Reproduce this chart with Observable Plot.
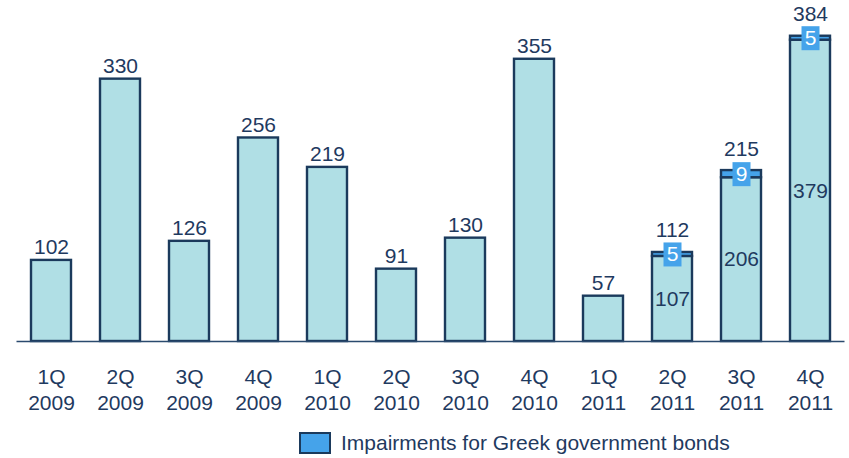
<!DOCTYPE html>
<html>
<head>
<meta charset="utf-8">
<script src="https://cdn.jsdelivr.net/npm/d3@7"></script>
<script src="https://cdn.jsdelivr.net/npm/@observablehq/plot@0.6"></script>
<style>
  html, body { margin: 0; padding: 0; background: #fff; }
  body { width: 849px; height: 458px; overflow: hidden; font-family: "Liberation Sans", Arial, sans-serif; }
  #legend { display: flex; align-items: center; height: 24px; margin-top: 11px; padding-left: 299px; color: #1f3a5f; font-size: 21px; }
  #legend .sw { width: 32px; height: 22px; background: #45a3ea; border: 2px solid #1b3a5c; margin-right: 10px; box-sizing: border-box; }
</style>
</head>
<body>
<div id="chart"></div>
<div id="legend"><span class="sw"></span><span>Impairments for Greek government bonds</span></div>
<script>
const quarters = ["1Q\n2009","2Q\n2009","3Q\n2009","4Q\n2009","1Q\n2010","2Q\n2010","3Q\n2010","4Q\n2010","1Q\n2011","2Q\n2011","3Q\n2011","4Q\n2011"];
const baseValues = [102,330,126,256,219,91,130,355,57,107,206,379];
const greekValues = [0,0,0,0,0,0,0,0,0,5,9,5];
const totals = [102,330,126,256,219,91,130,355,57,112,215,384];

const rows = quarters.map((q, i) => ({q, base: baseValues[i], greek: greekValues[i], total: totals[i]}));
const greekRows = rows.filter(d => d.greek > 0);
const plainRows = rows.filter(d => d.greek === 0);

const navy = "#1b3a5c";
const textColor = "#1f3a5f";
const fs = 21;

// custom rectangle symbol for the Greek value label box
const boxSymbol = { draw(ctx, size) { const w = 9, h = 12; ctx.moveTo(-w, -h); ctx.lineTo(w, -h); ctx.lineTo(w, h); ctx.lineTo(-w, h); ctx.closePath(); } };

const chart = Plot.plot({
  width: 849,
  height: 420,
  marginLeft: 16.5,
  marginRight: 4.5,
  marginTop: 23,
  marginBottom: 79,
  style: {fontFamily: "'Liberation Sans', Arial, sans-serif", fontSize: fs + "px", color: textColor, background: "white"},
  x: {domain: quarters, paddingInner: 0.42, paddingOuter: 0.21, label: null},
  y: {domain: [0, 400], axis: null},
  marks: [
    Plot.barY(rows, {x: "q", y1: 0, y2: "base", fill: "#b0dfe5", stroke: navy, strokeWidth: 2.4}),
    Plot.barY(greekRows, {x: "q", y1: "base", y2: "total", fill: "#45a3ea", stroke: navy, strokeWidth: 2.4}),
    Plot.ruleY([0], {stroke: "#2a4a6e", strokeWidth: 1.5}),
    Plot.axisX({tickSize: 0, tickPadding: 24, fontSize: fs, fill: textColor, lineHeight: 1.24, label: null}),
    Plot.text(plainRows, {x: "q", y: "total", text: d => String(d.total), lineAnchor: "bottom", dy: -6, fill: textColor, fontSize: fs}),
    Plot.text(greekRows, {x: "q", y: "total", text: d => String(d.total), lineAnchor: "bottom", dy: -15, fill: textColor, fontSize: fs}),
    Plot.text(greekRows, {x: "q", y: d => d.base / 2, text: d => String(d.base), fill: textColor, fontSize: fs}),
    Plot.dot(greekRows, {x: "q", y: d => d.base + d.greek / 2, symbol: boxSymbol, r: 1, fill: "#45a3ea", stroke: "none"}),
    Plot.text(greekRows, {x: "q", y: d => d.base + d.greek / 2, text: d => String(d.greek), fill: "white", fontSize: fs})
  ]
});
document.getElementById("chart").appendChild(chart);
</script>
</body>
</html>
